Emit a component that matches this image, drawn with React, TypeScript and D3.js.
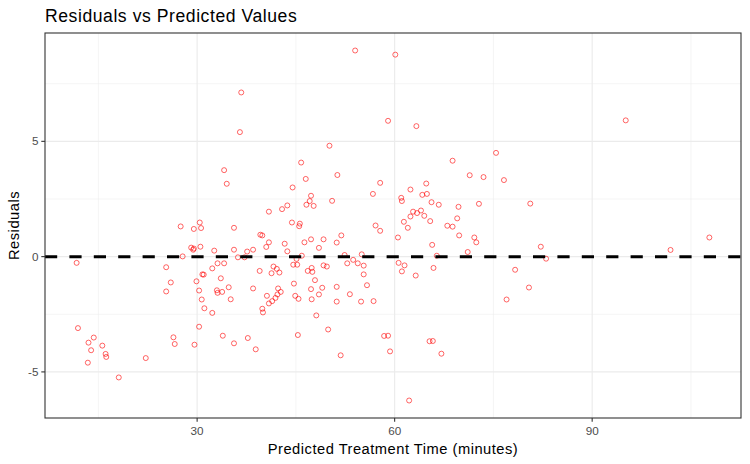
import React from "react";
import * as d3 from "d3";

const predicted: number[] = [
  27.5, 30.4, 29.5, 30.6, 29.1, 29.5, 29.4, 30.5, 32.6, 27.8, 11.7, 33.1, 25.3, 32.3, 30.8, 31.0, 33.6, 26.0, 29.9, 25.3,
  30.3, 33.0, 33.1, 30.7, 31.1, 32.3, 11.9, 30.3, 14.3, 26.4, 13.5, 15.6, 26.6, 29.6, 13.9, 16.1, 16.2, 13.4, 22.2, 18.1,
  35.6, 44.4, 45.6, 45.5, 57.1, 57.8, 35.6, 39.6, 39.9, 40.9, 40.5, 43.3, 43.7, 38.5, 37.6, 37.2, 36.2, 47.3, 46.3, 49.2,
  48.5, 51.9, 51.2, 52.4, 55.0, 45.9, 45.1, 44.6, 45.2, 34.1, 39.5, 41.6, 42.1, 42.5, 41.3, 46.8, 47.4, 47.5, 49.2, 49.7,
  52.8, 53.7, 54.4, 55.3, 55.3, 47.9, 44.7, 55.8, 33.8, 34.8, 38.5, 42.3, 42.7, 42.2, 41.9, 40.6, 41.4, 40.9, 35.1, 44.9,
  45.4, 47.3, 47.4, 48.5, 49.0, 51.2, 51.2, 53.2, 54.9, 56.8, 39.9, 40.0, 48.1, 49.9, 33.9, 37.7, 35.6, 38.9, 45.3, 51.8,
  58.4, 59.0, 59.3,
  54.0, 36.7, 36.5, 59.0, 50.1, 34.1, 34.5, 45.8, 51.3, 46.5, 57.8, 44.5, 56.7, 47.3, 50.5, 43.7, 46.6, 47.1, 47.7, 42.9, 40.9,
  60.1, 63.3, 75.4, 68.8, 71.4, 73.5, 76.6, 64.8, 62.4, 64.2, 64.9, 61.0, 61.1, 65.6, 66.7, 69.7, 72.8, 80.6, 62.8, 63.4,
  64.0, 62.4, 64.5, 61.4, 65.4, 69.5, 68.0, 68.8, 62.0,
  60.5, 69.8, 72.1, 72.4, 65.7, 82.2, 66.4, 71.1, 83.0, 60.6, 61.5, 61.1, 65.9, 63.2, 78.3, 80.4, 77.0, 65.3, 65.8, 67.1, 62.2,
  95.1, 101.9, 107.8,
];

const residuals: number[] = [
  1.31, 1.48, 1.2, 1.24, 0.39, 0.35, 0.3, 0.43, 0.26, 0.01, -0.27, -0.29, -0.46, -0.51, -0.77, -0.78, -0.94, -1.12, -1.07, -1.51,
  -1.47, -1.46, -1.57, -1.86, -2.24, -2.44, -3.1, -3.04, -3.51, -3.5, -3.73, -3.86, -3.79, -3.82, -4.06, -4.22, -4.35, -4.6, -4.4, -5.24,
  1.25, 1.48, 1.43, 1.32, 1.35, 1.12, 0.3, 0.95, 0.92, 0.62, 0.42, 0.56, 0.23, 0.3, 0.22, -0.03, -0.03, 0.75, 0.62, 0.75,
  0.38, 0.92, 0.61, 0.07, 0.1, 0.04, -0.1, -0.35, -0.35, -0.29, -0.62, -0.43, -0.53, -0.69, -0.72, -0.62, -0.49, -0.66, -0.38, -0.43,
  -0.29, -0.14, -0.29, -0.39, -0.77, -1.02, -1.17, -1.24, -1.53, -1.33, -1.38, -1.38, -1.53, -1.64, -1.79, -1.7, -1.93, -2.03, -1.85, -1.7,
  -1.83, -1.41, -1.85, -1.64, -1.35, -1.31, -1.95, -1.63, -1.95, -1.93, -2.26, -2.42, -2.55, -3.16, -3.43, -3.53, -3.76, -4.02, -3.4, -4.28,
  -3.44, -3.43, -4.11,
  8.94, 7.12, 5.4, 5.89, 4.81, 3.75, 3.16, 4.08, 3.54, 3.37, 3.2, 3.0, 2.72, 2.64, 2.42, 2.22, 2.25, 2.41, 2.2, 2.06, 1.95,
  8.76, 5.66, 4.5, 4.16, 3.53, 3.45, 3.32, 3.17, 2.91, 2.68, 2.72, 2.55, 2.41, 2.36, 2.25, 2.16, 2.29, 2.3, 1.95, 1.89,
  2.0, 1.74, 1.77, 1.51, 1.54, 1.66, 1.34, 1.3, 1.25,
  0.83, 0.92, 0.83, 0.62, 0.51, 0.43, 0.04, 0.2, -0.09, -0.27, -0.38, -0.64, -0.49, -0.82, -0.57, -1.34, -1.86, -3.67, -3.66, -4.21, -6.24,
  5.91, 0.29, 0.83,
];

const xMajor: number[] = [30, 60, 90];
const xMinor: number[] = [15, 45, 75, 105];
const yMajor: number[] = [-5, 0, 5];
const yMinor: number[] = [-2.5, 2.5, 7.5];
const yTickLabels: string[] = ["-5", "0", "5"];

const titleText = "Residuals vs Predicted Values";
const xTitle = "Predicted Treatment Time (minutes)";
const yTitle = "Residuals";

const W = 750;
const H = 464;
const P = { left: 45, right: 741, top: 33, bottom: 418 };
const FONT = "'Liberation Sans', Arial, Helvetica, sans-serif";

function expand(ext: [number, number]): [number, number] {
  const r = ext[1] - ext[0];
  return [ext[0] - r * 0.05, ext[1] + r * 0.05];
}

export default function App() {
  const data = predicted.map((p, i) => ({ x: p, y: residuals[i] }));
  const x = d3
    .scaleLinear()
    .domain(expand(d3.extent(predicted) as [number, number]))
    .range([P.left, P.right]);
  const y = d3
    .scaleLinear()
    .domain(expand(d3.extent(residuals) as [number, number]))
    .range([P.bottom, P.top]);

  const inY = (v: number) => v >= y.domain()[0] && v <= y.domain()[1];
  const inX = (v: number) => v >= x.domain()[0] && v <= x.domain()[1];

  return (
    <svg
      width={W}
      height={H}
      style={{ position: "absolute", left: 0, top: 0, background: "#fff" }}
      fontFamily={FONT}
    >
      <rect x={0} y={0} width={W} height={H} fill="#fff" />
      {xMinor.filter(inX).map((v) => (
        <line key={"xm" + v} x1={x(v)} x2={x(v)} y1={P.top} y2={P.bottom} stroke="#EBEBEB" strokeWidth={0.55} />
      ))}
      {yMinor.filter(inY).map((v) => (
        <line key={"ym" + v} x1={P.left} x2={P.right} y1={y(v)} y2={y(v)} stroke="#EBEBEB" strokeWidth={0.55} />
      ))}
      {xMajor.map((v) => (
        <line key={"xM" + v} x1={x(v)} x2={x(v)} y1={P.top} y2={P.bottom} stroke="#EBEBEB" strokeWidth={1.1} />
      ))}
      {yMajor.map((v) => (
        <line key={"yM" + v} x1={P.left} x2={P.right} y1={y(v)} y2={y(v)} stroke="#EBEBEB" strokeWidth={1.1} />
      ))}
      {data.map((d, i) => (
        <circle
          key={i}
          cx={x(d.x)}
          cy={y(d.y)}
          r={2.5}
          fill="none"
          stroke="#FF0000"
          strokeOpacity={0.6}
          strokeWidth={1}
        />
      ))}
      <line
        x1={P.left}
        x2={P.right}
        y1={y(0)}
        y2={y(0)}
        stroke="#000"
        strokeWidth={3}
        strokeDasharray="12.2 12.2"
      />
      <rect
        x={P.left}
        y={P.top}
        width={P.right - P.left}
        height={P.bottom - P.top}
        fill="none"
        stroke="#333333"
        strokeWidth={1.1}
      />
      {xMajor.map((v) => (
        <g key={"xt" + v}>
          <line x1={x(v)} x2={x(v)} y1={P.bottom} y2={P.bottom + 3.7} stroke="#333333" strokeWidth={1.1} />
          <text x={x(v)} y={P.bottom + 17} textAnchor="middle" fontSize={11.7} fill="#4D4D4D">
            {String(v)}
          </text>
        </g>
      ))}
      {yMajor.map((v, i) => (
        <g key={"yt" + v}>
          <line x1={P.left - 3.7} x2={P.left} y1={y(v)} y2={y(v)} stroke="#333333" strokeWidth={1.1} />
          <text x={P.left - 6.6} y={y(v)} dy="0.35em" textAnchor="end" fontSize={11.7} fill="#4D4D4D">
            {yTickLabels[i]}
          </text>
        </g>
      ))}
      <text x={P.left} y={22} fontSize={17.6} letterSpacing={0.55} fill="#000">
        {titleText}
      </text>
      <text
        x={(P.left + P.right) / 2}
        y={453.5}
        textAnchor="middle"
        fontSize={14.7}
        letterSpacing={0.5}
        fill="#000"
      >
        {xTitle}
      </text>
      <text
        transform={`translate(${19},${(P.top + P.bottom) / 2}) rotate(-90)`}
        textAnchor="middle"
        fontSize={14.7}
        letterSpacing={0.5}
        fill="#000"
      >
        {yTitle}
      </text>
    </svg>
  );
}
